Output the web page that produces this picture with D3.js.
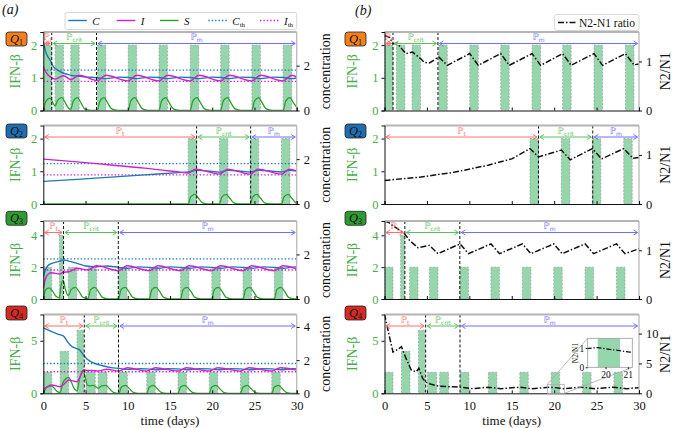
<!DOCTYPE html>
<html><head><meta charset="utf-8">
<script src="https://cdn.jsdelivr.net/npm/d3@7"></script>
<style>body{margin:0;background:#fff}svg{display:block}
svg text{font-family:"Liberation Serif","Times New Roman",Tinos,"DejaVu Serif","Noto Serif",serif !important}
svg text.dj{font-family:"DejaVu Sans",sans-serif !important}</style>
</head><body><svg id="c" width="676" height="428"></svg>
<script>
// ---------------- DATA ----------------
const timeTicks = [0,5,10,15,20,25,30];
const panelNames = ["1","2","3","4"];
const ifnTicks = [[0,1,2],[0,1,2],[0,2,4],[0,5]];
const concTicks = [[0,2],[0,2],[0,2],[0,2,4]];
const ratioTicks = [[0,1],[0,1],[0,1],[0,5,10]];
const C_th = 1.8, I_th = 1.3;
// phase boundaries [end of Pt, end of Pcrit]
const phaseBounds = [[1.0,6.3],[18.15,24.55],[2.4,8.88],[4.85,8.9]];
// IFN-beta doses [start, end, dose]
const bars1 = [[0,1,2],[1.4,2.4,2],[3.25,4.25,2],[6.4,7.4,2],[10.05,11.05,2],[13.7,14.7,2],[17.4,18.4,2],[21.0,22.0,2],[24.7,25.7,2],[28.4,29.4,2]];
const bars2 = [[17.15,18.15,2],[20.85,21.85,2],[24.5,25.5,2],[28.2,29.2,2]];
const bars3 = [[0,1,2],[1.9,2.35,4],[2.96,3.95,2],[5.3,6.3,2],[8.9,9.9,2],[12.55,13.55,2],[16.25,17.25,2],[19.95,20.95,2],[23.65,24.65,2],[27.35,28.35,2]];
const bars4 = [[0,1,2],[2,3,4],[4,4.75,6],[5.05,6.15,2],[6.5,7.55,2],[8.95,9.95,2],[12.25,13.25,2],[15.95,16.95,2],[19.65,20.65,2],[23.35,24.35,2],[27.05,28.05,2]];
// C (blue)
const C1 = [[0,3.07],[0.3,2.6],[0.8,2.25],[1.2,1.96],[1.8,1.78],[2.4,1.66],[3.2,1.58],[3.9,1.54],[5,1.5],[6.4,1.46],[7.4,1.42],[9,1.49],[10.05,1.47],[11.05,1.42],[12.6,1.49],[13.7,1.47],[14.7,1.42],[16.3,1.49],[17.4,1.47],[18.4,1.42],[20,1.49],[21.0,1.47],[22.0,1.42],[23.6,1.49],[24.7,1.47],[25.7,1.42],[27.3,1.49],[28.4,1.47],[29.4,1.42],[30,1.45]];
const C2 = [[0,1.01],[4,1.1],[8,1.2],[12,1.3],[16,1.4],[17.15,1.43],[18.2,1.5],[19.5,1.47],[20.85,1.42],[21.9,1.5],[23.2,1.47],[24.5,1.43],[25.5,1.5],[26.9,1.47],[28.2,1.43],[29.2,1.5],[30,1.47]];
const C3 = [[0,1.0],[0.3,1.35],[0.6,1.52],[1.2,1.62],[2.0,1.7],[2.4,1.75],[3.0,1.7],[4.0,1.6],[5.0,1.48],[6.3,1.45],[7.5,1.48],[8.9,1.42],[10.0,1.38],[11.3,1.44],[12.55,1.42],[13.6,1.38],[15,1.44],[16.25,1.42],[17.3,1.38],[18.7,1.44],[19.95,1.42],[21,1.38],[22.4,1.44],[23.65,1.42],[24.7,1.38],[26.1,1.44],[27.35,1.42],[28.4,1.38],[29.8,1.44],[30,1.43]];
const C4 = [[0,3.94],[1,3.72],[1.8,3.55],[2.4,3.45],[2.8,3.15],[3.3,2.85],[3.8,2.72],[4.3,2.62],[4.7,2.35],[5.2,2.05],[6,1.82],[7,1.66],[8,1.55],[9,1.5],[10,1.44],[11.5,1.48],[12.25,1.47],[13.3,1.42],[14.8,1.48],[15.95,1.47],[17,1.42],[18.5,1.48],[19.65,1.47],[20.7,1.42],[22.2,1.48],[23.35,1.47],[24.4,1.42],[25.9,1.48],[27.05,1.47],[28.1,1.42],[29.6,1.48],[30,1.47]];
// I (magenta)
const I1 = [[0,1.96],[0.4,1.65],[1.0,1.46],[1.4,1.4],[2.4,1.55],[3.25,1.38],[4.25,1.57],[6.4,1.33],[7.4,1.57],[10.05,1.32],[11.05,1.57],[13.7,1.32],[14.7,1.57],[17.4,1.32],[18.4,1.57],[21.0,1.32],[22.0,1.57],[24.7,1.32],[25.7,1.57],[28.4,1.32],[29.4,1.57],[30,1.5]];
const I2 = [[0,2.0],[4,1.88],[8,1.74],[12,1.6],[16,1.43],[17.15,1.38],[18.0,1.55],[20.85,1.33],[21.8,1.55],[24.5,1.33],[25.4,1.55],[28.2,1.33],[29.1,1.55],[30,1.48]];
const I3 = [[0,0.48],[0.3,0.95],[0.6,1.12],[1.0,1.18],[1.9,1.12],[2.4,1.2],[3.0,1.22],[4.0,1.38],[5.3,1.3],[6.3,1.49],[8.9,1.27],[9.9,1.49],[12.55,1.27],[13.55,1.49],[16.25,1.27],[17.25,1.49],[19.95,1.27],[20.95,1.49],[23.65,1.27],[24.65,1.49],[27.35,1.27],[28.35,1.49],[30,1.35]];
const I4 = [[0,0.24],[0.5,0.4],[1.0,0.5],[2.0,0.4],[2.6,0.62],[3.0,0.8],[4.0,0.7],[4.4,1.05],[4.8,1.4],[5.3,1.38],[6.2,1.36],[6.5,1.34],[7.5,1.45],[8.95,1.34],[9.95,1.54],[12.25,1.34],[13.25,1.54],[15.95,1.34],[16.95,1.54],[19.65,1.34],[20.65,1.54],[23.35,1.34],[24.35,1.54],[27.05,1.34],[28.05,1.54],[30,1.4]];
// S (green)
const S1 = [[0,0],[0.3,0.4],[0.8,0.55],[1.2,0.3],[1.4,0.2],[1.7,0.45],[2.2,0.57],[2.6,0.35],[3.0,0.1],[3.25,0.05],[3.55,0.42],[4.05,0.57],[4.45,0.35],[4.9,0.07],[5.6,0],[6.4,0],[6.7,0.42],[7.2,0.57],[7.6,0.35],[8.1,0.07],[8.8,0],[10.05,0],[10.35,0.42],[10.85,0.57],[11.25,0.35],[11.75,0.07],[12.4,0],[13.7,0],[14.0,0.42],[14.5,0.57],[14.9,0.35],[15.4,0.07],[16.1,0],[17.4,0],[17.7,0.42],[18.2,0.57],[18.6,0.35],[19.1,0.07],[19.8,0],[21.0,0],[21.3,0.42],[21.8,0.57],[22.2,0.35],[22.7,0.07],[23.4,0],[24.7,0],[25.0,0.42],[25.5,0.57],[25.9,0.35],[26.4,0.07],[27.1,0],[28.4,0],[28.7,0.42],[29.2,0.57],[29.6,0.35],[30,0.15]];
const S2 = [[0,0],[17.15,0],[17.45,0.32],[17.95,0.43],[18.35,0.27],[18.85,0.05],[19.5,0],[20.85,0],[21.15,0.32],[21.65,0.43],[22.05,0.27],[22.55,0.05],[23.2,0],[24.5,0],[24.8,0.32],[25.3,0.43],[25.7,0.27],[26.2,0.05],[26.9,0],[28.2,0],[28.5,0.32],[29.0,0.43],[29.4,0.27],[29.9,0.05],[30,0.03]];
const S3 = [[0,0.05],[0.3,0.42],[0.7,0.5],[1.1,0.35],[1.5,0.12],[1.9,0.05],[2.1,0.6],[2.35,0.85],[2.6,0.45],[2.96,0.15],[3.3,0.42],[3.8,0.52],[4.2,0.35],[4.7,0.07],[5.3,0.02],[5.6,0.42],[6.1,0.52],[6.5,0.35],[7.0,0.07],[7.7,0],[8.9,0],[9.2,0.42],[9.7,0.52],[10.1,0.35],[10.6,0.07],[11.3,0],[12.55,0],[12.85,0.42],[13.35,0.52],[13.75,0.35],[14.25,0.07],[14.95,0],[16.25,0],[16.55,0.42],[17.05,0.52],[17.45,0.35],[17.95,0.07],[18.65,0],[19.95,0],[20.25,0.42],[20.75,0.52],[21.15,0.35],[21.65,0.07],[22.35,0],[23.65,0],[23.95,0.42],[24.45,0.52],[24.85,0.35],[25.35,0.07],[26.05,0],[27.35,0],[27.65,0.42],[28.15,0.52],[28.55,0.35],[29.05,0.07],[29.75,0],[30,0]];
const S4 = [[0,0],[0.3,0.3],[0.7,0.42],[1.0,0.44],[1.3,0.3],[1.7,0.08],[2.0,0.05],[2.3,0.6],[2.7,0.9],[3.0,0.96],[3.3,0.7],[3.7,0.25],[4.0,0.15],[4.3,0.9],[4.75,1.4],[4.95,1.0],[5.2,0.5],[5.5,0.45],[5.9,0.48],[6.2,0.4],[6.5,0.3],[6.9,0.45],[7.4,0.48],[7.8,0.3],[8.3,0.06],[8.95,0],[9.25,0.38],[9.75,0.48],[10.15,0.3],[10.65,0.06],[11.3,0],[12.25,0],[12.55,0.38],[13.05,0.48],[13.45,0.3],[13.95,0.06],[14.6,0],[15.95,0],[16.25,0.38],[16.75,0.48],[17.15,0.3],[17.65,0.06],[18.3,0],[19.65,0],[19.95,0.38],[20.45,0.48],[20.85,0.3],[21.35,0.06],[22,0],[23.35,0],[23.65,0.38],[24.15,0.48],[24.55,0.3],[25.05,0.06],[25.7,0],[27.05,0],[27.35,0.38],[27.85,0.48],[28.25,0.3],[28.75,0.06],[29.4,0],[30,0]];
// N2/N1 ratio
const R1 = [[0,1.53],[0.6,1.49],[1.0,1.36],[1.5,1.37],[2.5,1.16],[3.3,1.19],[4.3,1.05],[4.7,0.98],[5.3,0.97],[6.4,1.09],[7.4,0.92],[10.05,1.16],[11.05,0.92],[13.7,1.16],[14.7,0.92],[17.4,1.16],[18.4,0.92],[21.0,1.16],[22.0,0.92],[24.7,1.16],[25.7,0.92],[28.4,1.16],[29.4,0.93],[30,0.95]];
const R2 = [[0,0.48],[4.3,0.55],[8.3,0.65],[12.2,0.79],[15,0.92],[17.15,1.13],[18.15,0.96],[20.85,1.1],[21.9,0.9],[24.5,1.13],[25.6,0.92],[28.2,1.13],[29.3,0.93],[30,0.95]];
const R3 = [[0,1.6],[0.5,1.57],[1.0,1.5],[1.9,1.4],[2.4,1.33],[2.96,1.2],[3.95,1.05],[5.3,1.1],[6.3,0.93],[8.9,1.13],[9.9,0.93],[12.55,1.13],[13.55,0.93],[16.25,1.13],[17.25,0.93],[19.95,1.13],[20.95,0.93],[23.65,1.13],[24.65,0.93],[27.35,1.13],[28.35,0.93],[30,1.03]];
const R4 = [[0,13.3],[0.5,10],[1.0,6.9],[1.5,7.3],[2.0,7.8],[2.55,5.8],[3.15,3.9],[3.75,3.6],[4.05,4.2],[4.5,2.5],[4.85,1.9],[5.5,1.5],[6.3,1.22],[7.5,1.1],[8.95,1.05],[10.4,0.78],[12.25,1.02],[13.7,0.78],[15.95,1.02],[17.4,0.78],[19.65,1.02],[21.1,0.78],[23.35,1.02],[24.8,0.78],[27.05,1.02],[28.5,0.78],[30,0.95]];
const insetTicksX = [20,21], insetTicksY = [0,1];

// ---------------- LAYOUT / STYLE ----------------
const SERIF = '"Liberation Serif","Times New Roman",Tinos,"DejaVu Serif",serif';
const svg = d3.select("#c");
const bars=[bars1,bars2,bars3,bars4], Cs=[C1,C2,C3,C4], Is=[I1,I2,I3,I4], Ss=[S1,S2,S3,S4], Rs=[R1,R2,R3,R4];
const tops=[32,125.5,221,314.5], bots=[110.5,204,299,393.3];
const badgeY=[32,124,211.3,306];
const ifnMax=[2.4,2.4,4.9,7.5], concMax=[3.5,3.5,3.5,4.75], ratioMax=[1.6,1.6,1.6,13.2];
const badgeFill=["#f2801f","#1f6db0","#2f9a32","#d42a24"];
const GREEN_T="#48ad48", CB="#1f77b4", MG="#d020d0", SG="#2ca02c";
const phaseCol=["#ff6f6f","#5cbf5c","#6f6fff"], phaseSub=["t","crit","m"];
const barFill="#95d6ac";

const defs = svg.append("defs");

function styleAxis(a, color, size){
  a.attr("font-family",SERIF);
  a.selectAll("text").style("font-family",SERIF).style("font-size",size||"12.5px").attr("fill",color||"#111");
  a.selectAll(".tick line").attr("stroke","#111");
}

function drawPanel(side,k){
  const L = side==="a"?43.3:384.5, Rr = side==="a"?296.7:639;
  const top=tops[k], bot=bots[k];
  const x=d3.scaleLinear().domain([0,30]).range([L,Rr]);
  const yI=d3.scaleLinear().domain([0,ifnMax[k]]).range([bot,top]);
  const yR=d3.scaleLinear().domain([0, side==="a"?concMax[k]:ratioMax[k]]).range([bot,top]);
  const cid="clip"+side+k;
  defs.append("clipPath").attr("id",cid).append("rect").attr("x",L).attr("y",top).attr("width",Rr-L).attr("height",bot-top);
  const g=svg.append("g");
  const pg=g.append("g").attr("clip-path",`url(#${cid})`);
  pg.selectAll("rect.bar").data(bars[k]).join("rect").attr("class","bar")
    .attr("x",d=>x(d[0])).attr("width",d=>x(d[1])-x(d[0]))
    .attr("y",d=>yI(d[2])).attr("height",d=>yI(0)-yI(d[2]))
    .attr("fill",barFill).attr("stroke","#9a9a9a").attr("stroke-width",0.7).attr("stroke-dasharray","2,1.5");
  const line=d3.line().x(d=>x(d[0])).y(d=>yR(d[1])).curve(d3.curveMonotoneX);
  if(side==="a"){
    pg.append("line").attr("x1",L).attr("x2",Rr).attr("y1",yR(C_th)).attr("y2",yR(C_th)).attr("stroke",CB).attr("stroke-width",1.4).attr("stroke-dasharray","1.4,2");
    pg.append("line").attr("x1",L).attr("x2",Rr).attr("y1",yR(I_th)).attr("y2",yR(I_th)).attr("stroke",MG).attr("stroke-width",1.4).attr("stroke-dasharray","1.4,2");
    pg.append("path").attr("d",line(Ss[k])).attr("fill","none").attr("stroke",SG).attr("stroke-width",1.3);
    pg.append("path").attr("d",line(Cs[k])).attr("fill","none").attr("stroke",CB).attr("stroke-width",1.4);
    pg.append("path").attr("d",line(Is[k])).attr("fill","none").attr("stroke",MG).attr("stroke-width",1.4);
  } else {
    pg.append("path").attr("d",d3.line().x(d=>x(d[0])).y(d=>yR(d[1])).curve(d3.curveLinear)(Rs[k])).attr("fill","none").attr("stroke","#111").attr("stroke-width",1.5).attr("stroke-dasharray","6,2,1.5,2");
  }
  phaseBounds[k].forEach(p=>{
    g.append("line").attr("x1",x(p)).attr("x2",x(p)).attr("y1",top).attr("y2",bot).attr("stroke","#111").attr("stroke-width",1).attr("stroke-dasharray","3,2");
  });
  g.append("line").attr("x1",L).attr("x2",Rr).attr("y1",top).attr("y2",top).attr("stroke","#b4b4b4").attr("stroke-width",2);
  g.append("line").attr("x1",Rr).attr("x2",Rr).attr("y1",top).attr("y2",bot).attr("stroke","#b4b4b4").attr("stroke-width",1.2);
  const b=[0,phaseBounds[k][0],phaseBounds[k][1],30];
  const ay=top+11.5;
  for(let i=0;i<3;i++){
    const xa=x(b[i])+1.5, xb=x(b[i+1])-1.5, c=phaseCol[i];
    const ag=g.append("g").attr("stroke",c).attr("fill","none").attr("stroke-width",1);
    ag.append("line").attr("x1",xa).attr("x2",xb).attr("y1",ay).attr("y2",ay);
    ag.append("path").attr("d",`M${xa+4},${ay-2.5}L${xa},${ay}L${xa+4},${ay+2.5}`);
    ag.append("path").attr("d",`M${xb-4},${ay-2.5}L${xb},${ay}L${xb-4},${ay+2.5}`);
    const t=g.append("text").attr("class","dj").attr("x",(xa+xb)/2).attr("y",ay-3.5).attr("text-anchor","middle")
      .attr("fill",c).style("font-size","9px");
    t.append("tspan").text("ℙ");
    t.append("tspan").attr("dy",2).style("font-size","6px").text(phaseSub[i]);
  }
  const ax=g.append("g").attr("transform",`translate(0,${bot})`)
    .call(d3.axisBottom(x).tickValues(timeTicks).tickSize(-3).tickPadding(7.5).tickFormat(k===3?d3.format("d"):()=>""));
  ax.select(".domain").attr("stroke","#111");
  styleAxis(ax,"#111","12.5px");
  const ayL=g.append("g").attr("transform",`translate(${L},0)`)
    .call(d3.axisLeft(yI).tickValues(ifnTicks[k]).tickSize(3).tickPadding(3).tickFormat(d3.format("d")));
  ayL.select(".domain").attr("stroke","#111");
  styleAxis(ayL,GREEN_T,"12.5px");
  const ayR=g.append("g").attr("transform",`translate(${Rr},0)`)
    .call(d3.axisRight(yR).tickValues(side==="a"?concTicks[k]:ratioTicks[k]).tickSize(3).tickPadding(4).tickFormat(d3.format("d")));
  ayR.select(".domain").remove();
  styleAxis(ayR,"#111","12.5px");
  const my=(top+bot)/2;
  g.append("text").attr("transform",`translate(${side==="a"?19.5:357},${my}) rotate(-90)`).attr("text-anchor","middle")
    .attr("fill",GREEN_T).style("font-size","14px").text("IFN-β");
  g.append("text").attr("transform",`translate(${side==="a"?330:670},${my}) rotate(-90)`).attr("text-anchor","middle")
    .attr("fill","#111").style("font-size","14px").text(side==="a"?"concentration":"N2/N1");
  const bx=side==="a"?6:345;
  g.append("rect").attr("x",bx).attr("y",badgeY[k]).attr("width",21).attr("height",14).attr("rx",3)
    .attr("fill",badgeFill[k]).attr("stroke","#222").attr("stroke-width",0.8);
  const bt=g.append("text").attr("x",bx+10.5).attr("y",badgeY[k]+10.5).attr("text-anchor","middle").attr("fill","#111");
  bt.append("tspan").style("font-style","italic").style("font-size","12.5px").text("Q");
  bt.append("tspan").attr("dy",2).style("font-size","8px").text(panelNames[k]);
  if(k===3){
    g.append("text").attr("x",(L+Rr)/2).attr("y",425).attr("text-anchor","middle").attr("fill","#111").style("font-size","13px").text("time (days)");
  }
  if(side==="b"&&k===3) drawInset(x,yR);
}

function drawInset(x,yR){
  const ix=d3.scaleLinear().domain([19.2,21.2]).range([587.7,632.3]);
  const iy=d3.scaleLinear().domain([0,1.5]).range([367.3,338.3]);
  const g=svg.append("g");
  g.append("rect").attr("x",x(19.2)).attr("y",yR(1.5)).attr("width",x(21.2)-x(19.2)).attr("height",yR(0)-yR(1.5))
    .attr("fill","none").attr("stroke","#aaa").attr("stroke-width",0.8);
  g.append("line").attr("x1",x(19.2)).attr("y1",yR(1.5)).attr("x2",587.7).attr("y2",338.3).attr("stroke","#aaa").attr("stroke-width",0.8);
  g.append("line").attr("x1",x(21.2)).attr("y1",yR(0)).attr("x2",632.3).attr("y2",367.3).attr("stroke","#aaa").attr("stroke-width",0.8);
  defs.append("clipPath").attr("id","clipIn").append("rect").attr("x",587.7).attr("y",338.3).attr("width",44.6).attr("height",29);
  g.append("rect").attr("x",587.7).attr("y",338.3).attr("width",44.6).attr("height",29).attr("fill","#fff");
  const pg=g.append("g").attr("clip-path","url(#clipIn)");
  pg.selectAll("rect").data(bars4).join("rect").attr("x",d=>ix(d[0])).attr("width",d=>ix(d[1])-ix(d[0]))
    .attr("y",338.3).attr("height",29).attr("fill",barFill);
  pg.append("path").attr("d",d3.line().x(d=>ix(d[0])).y(d=>iy(d[1]))(R4)).attr("fill","none").attr("stroke","#111").attr("stroke-width",1.3).attr("stroke-dasharray","5,1.8,1.3,1.8");
  g.append("rect").attr("x",587.7).attr("y",338.3).attr("width",44.6).attr("height",29).attr("fill","none").attr("stroke","#999").attr("stroke-width",0.8);
  const axb=g.append("g").attr("transform","translate(0,367.3)").call(d3.axisBottom(ix).tickValues(insetTicksX).tickSize(2).tickPadding(1.5).tickFormat(d3.format("d")));
  axb.select(".domain").remove();
  styleAxis(axb,"#111","9.5px");
  const axl=g.append("g").attr("transform","translate(587.7,0)").call(d3.axisLeft(iy).tickValues(insetTicksY).tickSize(2).tickPadding(1.5).tickFormat(d3.format("d")));
  axl.select(".domain").remove();
  styleAxis(axl,"#111","9.5px");
  g.append("text").attr("transform","translate(578,353) rotate(-90)").attr("text-anchor","middle").style("font-size","7.5px").attr("fill","#111").text("N2/N1");
}

for(let k=0;k<4;k++){ drawPanel("a",k); drawPanel("b",k); }

svg.append("text").attr("x",2).attr("y",14).style("font-style","italic").style("font-size","14px").attr("fill","#111").text("(a)");
svg.append("text").attr("x",355).attr("y",15).style("font-style","italic").style("font-size","14px").attr("fill","#111").text("(b)");

const legA=[{c:CB,d:null,l:"C",s:""},{c:MG,d:null,l:"I",s:""},{c:SG,d:null,l:"S",s:""},{c:CB,d:"1.4,2",l:"C",s:"th"},{c:MG,d:"1.4,2",l:"I",s:"th"}];
const legX=[68.3,116.7,160,208.3,260];
svg.append("rect").attr("x",65).attr("y",12.5).attr("width",231.7).attr("height",17).attr("rx",2).attr("fill","#fff").attr("stroke","#ccc").attr("stroke-width",0.8);
legA.forEach((e,i)=>{
  svg.append("line").attr("x1",legX[i]).attr("x2",legX[i]+18.5).attr("y1",20.5).attr("y2",20.5).attr("stroke",e.c).attr("stroke-width",1.4).attr("stroke-dasharray",e.d);
  const t=svg.append("text").attr("x",legX[i]+24).attr("y",24.5).attr("fill","#111").style("font-size","11px");
  t.append("tspan").style("font-style","italic").text(e.l);
  if(e.s) t.append("tspan").attr("dy",2).style("font-size","7px").text(e.s);
});
svg.append("rect").attr("x",554.7).attr("y",14.5).attr("width",84.3).attr("height",16).attr("rx",2).attr("fill","#fff").attr("stroke","#ccc").attr("stroke-width",0.8);
svg.append("line").attr("x1",558).attr("x2",576).attr("y1",22.5).attr("y2",22.5).attr("stroke","#111").attr("stroke-width",1.5).attr("stroke-dasharray","6,2,1.5,2");
svg.append("text").attr("x",579).attr("y",26.5).attr("fill","#111").style("font-size","11.5px").text("N2-N1 ratio");
</script></body></html>
